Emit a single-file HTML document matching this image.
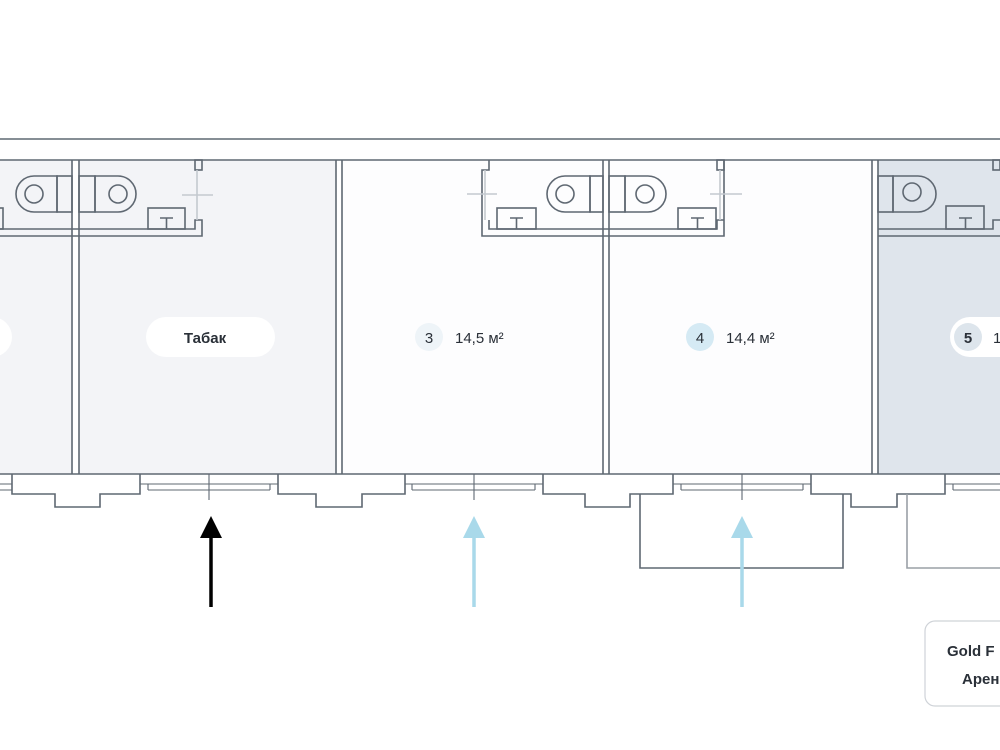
<!DOCTYPE html>
<html><head><meta charset="utf-8"><style>
html,body{margin:0;padding:0;background:#fff;}
svg{display:block;}
text{font-family:"Liberation Sans",sans-serif;fill:#2a3038;}
</style></head><body>
<svg width="1000" height="750" viewBox="0 0 1000 750" xmlns="http://www.w3.org/2000/svg">
<rect width="1000" height="750" fill="#fff"/>
<!-- room fills -->
<rect x="0" y="160" width="73" height="314" fill="#f3f4f7"/>
<rect x="79" y="160" width="257" height="314" fill="#f3f4f7"/>
<rect x="342" y="160" width="261" height="314" fill="#fdfdfe"/>
<rect x="609" y="160" width="263" height="314" fill="#fdfdfe"/>
<rect x="878" y="160" width="122" height="314" fill="#dfe5ec"/>
<g stroke="#5f6872" stroke-width="1.6" fill="none">
<!-- top walls -->
<line x1="0" y1="139" x2="1000" y2="139"/>
<line x1="0" y1="160" x2="1000" y2="160"/>
<!-- vertical walls -->
<line x1="72" y1="160" x2="72" y2="474"/><line x1="79" y1="160" x2="79" y2="474"/>
<line x1="336" y1="160" x2="336" y2="474"/><line x1="342" y1="160" x2="342" y2="474"/>
<line x1="603" y1="160" x2="603" y2="474"/><line x1="609" y1="160" x2="609" y2="474"/>
<line x1="872" y1="160" x2="872" y2="474"/><line x1="878" y1="160" x2="878" y2="474"/>
<!-- bottom line -->
<line x1="0" y1="474" x2="1000" y2="474"/>
<!-- bathrooms -->
<polyline points="0,229 195,229 195,220 202,220 202,236 0,236"/>
<rect x="195" y="160" width="7" height="10"/>
<line x1="197" y1="170" x2="197" y2="220" stroke="#c4c9cf"/>
<line x1="182" y1="195" x2="213" y2="195" stroke="#c4c9cf"/>
<polyline points="489,160 489,170 482,170 482,236 724,236 724,160"/>
<polyline points="489,220 489,229 717,229 717,220 724,220"/>
<rect x="717" y="160" width="7" height="10"/>
<line x1="485" y1="170" x2="485" y2="220" stroke="#c4c9cf"/>
<line x1="720" y1="170" x2="720" y2="220" stroke="#c4c9cf"/>
<line x1="467" y1="194" x2="497" y2="194" stroke="#c4c9cf"/>
<line x1="710" y1="194" x2="742" y2="194" stroke="#c4c9cf"/>
<polyline points="878,229 993,229 993,220 1000,220"/>
<line x1="878" y1="236" x2="1000" y2="236"/>
<rect x="993" y="160" width="7" height="10"/>
<!-- toilets -->
<path d="M57,176 H34 A18,18 0 0 0 34,212 H57 Z"/><rect x="57" y="176" width="15" height="36"/><circle cx="34" cy="194" r="9"/>
<path d="M95,176 H118 A18,18 0 0 1 118,212 H95 Z"/><rect x="79" y="176" width="16" height="36"/><circle cx="118" cy="194" r="9"/>
<path d="M590,176 H565 A18,18 0 0 0 565,212 H590 Z"/><rect x="590" y="176" width="13" height="36"/><circle cx="565" cy="194" r="9"/>
<path d="M625,176 H648 A18,18 0 0 1 648,212 H625 Z"/><rect x="609" y="176" width="16" height="36"/><circle cx="645" cy="194" r="9"/>
<path d="M893,176 H918 A18,18 0 0 1 918,212 H893 Z"/><rect x="878" y="176" width="15" height="36"/><circle cx="912" cy="192" r="9"/>
<!-- sinks -->
<rect x="-10" y="208" width="13" height="21"/>
<rect x="148" y="208" width="37" height="21"/><path d="M160,218 H173 M166.5,218 V229"/>
<rect x="497" y="208" width="39" height="21"/><path d="M510,218 H523 M516.5,218 V229"/>
<rect x="678" y="208" width="38" height="21"/><path d="M691,218 H704 M697.5,218 V229"/>
<rect x="946" y="206" width="38" height="23"/><path d="M959,218 H972 M965.5,218 V229"/>
<!-- facade blocks -->
<path d="M12,474 V494 H55 V507 H100 V494 H140 V474"/>
<path d="M278,474 V494 H316 V507 H362 V494 H405 V474"/>
<path d="M543,474 V494 H585 V507 H630 V494 H673 V474"/>
<path d="M811,474 V494 H851 V507 H897 V494 H945 V474"/>
<!-- windows -->
<g stroke-width="1.1">
<path d="M0,484 H12 M0,490 H12 M140,484 H278 M148,490 H270 M405,484 H543 M412,490 H535 M673,484 H811 M681,490 H803 M945,484 H1000 M953,490 H1000"/>
<path d="M148,484 V490 M270,484 V490 M412,484 V490 M535,484 V490 M681,484 V490 M803,484 V490 M953,484 V490"/>
<path d="M209,474 V500 M474,474 V500 M742,474 V500"/>
</g>
<!-- canopies -->
<path d="M640,494 V568 H843 V494"/>
<path d="M907,494 V568 H1000" stroke="#9aa0a6"/>
</g>
<!-- arrows -->
<line x1="211" y1="537" x2="211" y2="607" stroke="#000" stroke-width="3.5"/>
<polygon points="211,516 200,538 222,538" fill="#000"/>
<line x1="474" y1="537" x2="474" y2="607" stroke="#a9d9ea" stroke-width="3.5"/>
<polygon points="474,516 463,538 485,538" fill="#a9d9ea"/>
<line x1="742" y1="537" x2="742" y2="607" stroke="#a9d9ea" stroke-width="3.5"/>
<polygon points="742,516 731,538 753,538" fill="#a9d9ea"/>
<!-- labels -->
<rect x="-40" y="317" width="52" height="40" rx="20" fill="#fff"/>
<rect x="146" y="317" width="129" height="40" rx="20" fill="#fff"/>
<text x="205" y="343" font-size="15" text-anchor="middle" font-weight="bold" style="font-weight:600">Табак</text>
<circle cx="429" cy="337" r="14" fill="#eef4f8"/>
<text x="429" y="343" font-size="15" text-anchor="middle">3</text>
<text x="455" y="343" font-size="15">14,5 м²</text>
<circle cx="700" cy="337" r="14" fill="#d5eaf4"/>
<text x="700" y="343" font-size="15" text-anchor="middle">4</text>
<text x="726" y="343" font-size="15">14,4 м²</text>
<rect x="950" y="317" width="80" height="40" rx="20" fill="#fff"/>
<circle cx="968" cy="337" r="14" fill="#dde5ec"/>
<text x="968" y="343" font-size="15" text-anchor="middle" font-weight="bold">5</text>
<text x="993" y="343" font-size="15">1</text>
<rect x="925" y="621" width="100" height="85" rx="10" fill="#fff" stroke="#cfd3d8" stroke-width="1.2"/>
<text x="947" y="656" font-size="15" font-weight="bold">Gold F</text>
<text x="962" y="684" font-size="15" font-weight="bold">Арен</text>
</svg>
</body></html>
